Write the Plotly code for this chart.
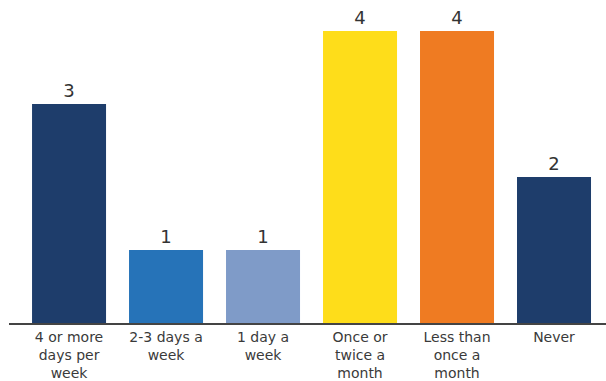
import plotly.graph_objects as go

categories = ["4 or more<br>days per<br>week", "2-3 days a<br>week", "1 day a<br>week",
              "Once or<br>twice a<br>month", "Less than<br>once a<br>month", "Never"]
values = [3, 1, 1, 4, 4, 2]
colors = ["#1e3d6b", "#2673b8", "#7f9bc8", "#fedd1a", "#ef7b22", "#1e3d6b"]

fig = go.Figure(go.Bar(
    x=categories, y=values,
    marker=dict(color=colors, line=dict(width=0)),
    text=[str(v) for v in values], textposition="outside",
    textfont=dict(size=18, color="#333333", family="DejaVu Sans, sans-serif"),
    cliponaxis=False,
))

fig.update_layout(
    width=606, height=381,
    margin=dict(l=9, r=0, t=0, b=58),
    paper_bgcolor="white", plot_bgcolor="white",
    bargap=0.237,
    showlegend=False,
    font=dict(family="DejaVu Sans, sans-serif", size=14, color="#3a3a3a"),
)
fig.update_xaxes(
    range=[-0.619, 5.536], showline=True, linecolor="#444444", linewidth=2,
    ticks="", showgrid=False, tickfont=dict(size=14, color="#3a3a3a"),
)
fig.update_yaxes(range=[0, 4.425], visible=False, showgrid=False)

fig.write_html("out.html")
